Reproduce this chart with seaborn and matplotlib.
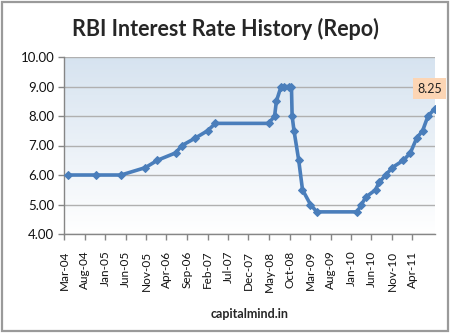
import numpy as np
import pandas as pd
import matplotlib
matplotlib.use("Agg")
import matplotlib.pyplot as plt
import matplotlib.dates as mdates
from matplotlib.patches import Rectangle
import seaborn as sns

# ---- data ----
dates = ["2004-03-31", "2004-10-27", "2005-04-29", "2005-10-26", "2006-01-24",
         "2006-06-08", "2006-07-25", "2006-10-31", "2007-01-31", "2007-03-30",
         "2008-04-29", "2008-06-12", "2008-06-25", "2008-07-30", "2008-08-20",
         "2008-09-30", "2008-10-15", "2008-10-20",
         "2008-11-03", "2008-12-08", "2009-01-05", "2009-03-05", "2009-04-21",
         "2010-02-15", "2010-03-19", "2010-04-20", "2010-07-02", "2010-07-27",
         "2010-09-16", "2010-11-02", "2011-01-25", "2011-03-17", "2011-05-03",
         "2011-06-16", "2011-07-26", "2011-09-16"]
repo = [6.00, 6.00, 6.00, 6.25, 6.50,
        6.75, 7.00, 7.25, 7.50, 7.75,
        7.75, 8.00, 8.50, 9.00, 9.00,
        9.00, 9.00, 8.00,
        7.50, 6.50, 5.50, 5.00, 4.75,
        4.75, 5.00, 5.25, 5.50, 5.75,
        6.00, 6.25, 6.50, 6.75, 7.25,
        7.50, 8.00, 8.25]
tick_dates = ["2004-03-01", "2004-08-01", "2005-01-01", "2005-06-01", "2005-11-01",
              "2006-04-01", "2006-09-01", "2007-02-01", "2007-07-01", "2007-12-01",
              "2008-05-01", "2008-10-01", "2009-03-01", "2009-08-01", "2010-01-01",
              "2010-06-01", "2010-11-01", "2011-04-01"]
y_ticks = [4.0, 5.0, 6.0, 7.0, 8.0, 9.0, 10.0]
title = "RBI Interest Rate History (Repo)"
xlabel = "capitalmind.in"
last_label = "8.25"

df = pd.DataFrame({"date": pd.to_datetime(dates), "repo": repo})

sns.set_theme(style="white")
plt.rcParams["font.family"] = ["Lato", "DejaVu Sans"]

fig = plt.figure(figsize=(4.51, 3.33), dpi=100)
ax = fig.add_axes([64 / 451, 1 - 234 / 333, (435 - 64) / 451, (234 - 57) / 333])

xmin = mdates.date2num(pd.Timestamp("2004-03-01"))
xmax = mdates.date2num(df["date"].iloc[-1])

# gradient background
grad = np.linspace(1, 0, 256).reshape(-1, 1)
top = np.array([0.84, 0.89, 0.94])
bot = np.array([1.0, 1.0, 1.0])
img = bot[None, None, :] * (1 - grad[..., None]) + top[None, None, :] * grad[..., None]
ax.imshow(img, extent=[xmin, xmax, 4, 10], aspect="auto", zorder=0,
          origin="upper")

sns.lineplot(data=df, x="date", y="repo", ax=ax, color="#4a7ebb", linewidth=2.6,
             marker="D", markersize=4, markeredgecolor="#4a7ebb", zorder=3)

ax.set_xlim(xmin, xmax)
ax.set_ylim(4, 10)
ax.set_yticks(y_ticks)
ax.set_yticklabels([f"{v:.2f}" for v in y_ticks], fontsize=9.5, color="#111111")
ax.set_xticks(mdates.date2num(pd.to_datetime(tick_dates)))
ax.set_xticklabels([pd.Timestamp(d).strftime("%b-%y") for d in tick_dates],
                   rotation=90, fontsize=8.5, color="#111111")
ax.grid(axis="y", color="#b0b0b0", linewidth=1.0, zorder=1)
ax.set_axisbelow(True)
for s in ["top", "right"]:
    ax.spines[s].set_visible(False)
for s in ["left", "bottom"]:
    ax.spines[s].set_color("#868686")
    ax.spines[s].set_linewidth(1.0)
ax.tick_params(axis="both", which="major", direction="out", length=4, width=1,
               color="#868686", bottom=True, left=True)
ax.tick_params(axis="x", pad=8)
ax.tick_params(axis="y", pad=3)
ax.set_xlabel(xlabel, fontsize=9, fontweight="bold", labelpad=12)
ax.set_ylabel("")

# label for last point
ax.annotate(last_label, xy=(df["date"].iloc[-1], repo[-1]), xytext=(-4, 10),
            textcoords="offset points", ha="center", va="bottom", fontsize=9,
            color="#222222", annotation_clip=False,
            bbox=dict(boxstyle="square,pad=0.35", fc="#fcd5b4", ec="none"))

fig.suptitle(title, fontsize=15.5, fontweight="bold", y=0.945)

# outer chart border
fig.patches.append(Rectangle((2 / 451, 2 / 333), 446 / 451, 329 / 333,
                             transform=fig.transFigure, fill=False,
                             ec="#9a9a9a", lw=1.6))

fig.savefig("out.png", dpi=100)
